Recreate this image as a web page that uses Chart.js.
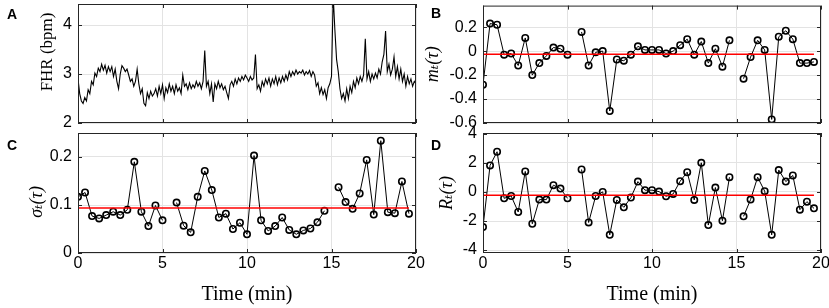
<!DOCTYPE html>
<html>
<head>
<meta charset="utf-8">
<script src="https://cdn.jsdelivr.net/npm/chart.js@4.4.1/dist/chart.umd.min.js"></script>
<style>
  html, body { margin: 0; padding: 0; background: #fff; overflow: hidden; }
  #wrap { position: relative; width: 829px; height: 308px; overflow: hidden; }
  canvas { position: absolute; }
  .tag { position: absolute; font: bold 14px "Liberation Sans", Arial, sans-serif; line-height: 14px; color: #000; }
</style>
</head>
<body>
<div id="wrap">
  <canvas id="panel-a" width="430" height="136" style="left:0;top:0"></canvas>
  <canvas id="panel-b" width="420" height="136" style="left:420px;top:0"></canvas>
  <canvas id="panel-c" width="430" height="188" style="left:0;top:120px"></canvas>
  <canvas id="panel-d" width="420" height="188" style="left:420px;top:120px"></canvas>
  <div class="tag" style="left:7px;top:7px">A</div>
  <div class="tag" style="left:431px;top:6px">B</div>
  <div class="tag" style="left:7px;top:138px">C</div>
  <div class="tag" style="left:431px;top:138px">D</div>
</div>
<script>
// x axis ticks (minutes)
const timeTicks = [0, 5, 10, 15, 20];

// FHR trace, read every 0.1 min
const fhrTime = [
  0, 0.1, 0.2, 0.3, 0.4, 0.5, 0.6, 0.7, 0.8, 0.9,
  1, 1.1, 1.2, 1.3, 1.4, 1.5, 1.6, 1.7, 1.8, 1.9,
  2, 2.1, 2.2, 2.3, 2.4, 2.5, 2.6, 2.7, 2.8, 2.9,
  3, 3.1, 3.2, 3.3, 3.4, 3.5, 3.6, 3.7, 3.8, 3.9,
  4, 4.1, 4.2, 4.3, 4.4, 4.5, 4.6, 4.7, 4.8, 4.9,
  5, 5.1, 5.2, 5.3, 5.4, 5.5, 5.6, 5.7, 5.8, 5.9,
  6, 6.1, 6.2, 6.3, 6.4, 6.5, 6.6, 6.7, 6.8, 6.9,
  7, 7.1, 7.2, 7.3, 7.4, 7.5, 7.6, 7.7, 7.8, 7.9,
  8, 8.1, 8.2, 8.3, 8.4, 8.5, 8.6, 8.7, 8.8, 8.9,
  9, 9.1, 9.2, 9.3, 9.4, 9.5, 9.6, 9.7, 9.8, 9.9,
  10, 10.1, 10.2, 10.3, 10.4, 10.5, 10.6, 10.7, 10.8, 10.9,
  11, 11.1, 11.2, 11.3, 11.4, 11.5, 11.6, 11.7, 11.8, 11.9,
  12, 12.1, 12.2, 12.3, 12.4, 12.5, 12.6, 12.7, 12.8, 12.9,
  13, 13.1, 13.2, 13.3, 13.4, 13.5, 13.6, 13.7, 13.8, 13.9,
  14, 14.1, 14.2, 14.3, 14.4, 14.5, 14.6, 14.7, 14.8, 14.9,
  15, 15.1, 15.2, 15.3, 15.4, 15.5, 15.6, 15.7, 15.8, 15.9,
  16, 16.1, 16.2, 16.3, 16.4, 16.5, 16.6, 16.7, 16.8, 16.9,
  17, 17.1, 17.2, 17.3, 17.4, 17.5, 17.6, 17.7, 17.8, 17.9,
  18, 18.1, 18.2, 18.3, 18.4, 18.5, 18.6, 18.7, 18.8, 18.9,
  19, 19.1, 19.2, 19.3, 19.4, 19.5, 19.6, 19.7, 19.8, 19.9,
  20
];
const fhrValue = [
  2.9, 2.6, 2.45, 2.4, 2.52, 2.45, 2.68, 2.6, 2.85, 2.78,
  3.02, 2.95, 3.12, 3.05, 3.2, 3.08, 3.18, 3.02, 3.15, 3.05,
  3.15, 2.95, 3.1, 2.85, 2.7, 3.0, 3.17, 3.12, 3.05, 3.1,
  2.98, 2.85, 2.9, 2.75, 2.85, 3.1, 2.8, 2.6, 2.7, 2.4,
  2.35, 2.62, 2.5, 2.65, 2.55, 2.6, 2.7, 2.55, 2.75, 2.6,
  2.78, 2.5, 2.72, 2.62, 2.8, 2.65, 2.75, 2.6, 2.78, 2.65,
  2.72, 2.6, 2.98, 2.75, 2.8, 2.68, 2.82, 2.7, 2.78, 2.72,
  2.85, 2.75, 2.82, 2.7, 2.85, 3.48, 2.75, 2.85, 2.6, 2.8,
  2.43, 2.8, 2.7, 2.85, 2.72, 2.8, 2.68, 2.75, 2.62, 2.5,
  2.78, 2.85, 2.75, 2.9, 2.8, 2.92, 2.85, 2.95, 2.88, 2.98,
  2.92, 2.85, 2.95, 2.88, 2.92, 3.4, 2.7, 2.78, 2.65, 2.85,
  2.75, 2.9, 2.8, 2.92, 2.75, 2.9, 2.8, 2.95, 2.78, 2.92,
  2.82, 2.95, 2.85, 2.98, 2.88, 3.05, 2.95, 3.05, 2.98, 3.08,
  3.0, 3.05, 3.02, 3.08, 2.98, 3.05, 3.0, 3.07, 2.95, 3.05,
  2.98, 2.75, 2.82, 2.6, 2.72, 2.58, 2.68, 2.5, 2.72, 2.8,
  2.95, 4.6, 3.9, 3.3, 3.05, 2.7, 2.5, 2.6, 2.45, 2.7,
  2.5, 2.75, 2.62, 2.85, 2.72, 2.92, 2.8, 2.95, 2.85, 2.98,
  3.72, 2.9, 3.05, 2.85, 3.0, 2.9, 3.02, 2.92, 3.1, 3.0,
  3.25, 3.4, 3.88, 3.05, 3.2, 2.98, 3.1, 3.35, 2.95, 3.15,
  2.9, 3.1, 2.85, 3.0, 2.75, 2.95, 2.8, 2.9, 2.75, 2.85,
  2.8
];

// window centres (min) for the windowed statistics
const winTime = [
  0, 0.417, 0.833, 1.25, 1.667, 2.083, 2.5, 2.917, 3.333, 3.75, 4.167, 4.583,
  5, 5.417, 5.833, 6.25, 6.667, 7.083, 7.5, 7.917, 8.333, 8.75, 9.167, 9.583,
  10, 10.417, 10.833, 11.25, 11.667, 12.083, 12.5, 12.917, 13.333, 13.75, 14.167, 14.583,
  15, 15.417, 15.833, 16.25, 16.667, 17.083, 17.5, 17.917, 18.333, 18.75, 19.167, 19.583
];
const meanValue = [
  -0.28, 0.23, 0.22, -0.03, -0.02, -0.12, 0.11, -0.2, -0.1, -0.04, 0.03, 0.02,
  -0.03, null, 0.16, -0.12, -0.01, 0.0, -0.5, -0.07, -0.08, -0.03, 0.04, 0.01,
  0.01, 0.01, -0.02, 0.0, 0.05, 0.1, -0.03, 0.08, -0.1, 0.02, -0.13, 0.09,
  null, -0.23, -0.05, 0.09, 0.01, -0.57, 0.12, 0.17, 0.1, -0.1, -0.1, -0.09
];
const stdValue = [
  0.117, 0.126, 0.077, 0.072, 0.079, 0.086, 0.079, 0.09, 0.19, 0.086, 0.056, 0.099,
  0.068, null, 0.105, 0.057, 0.043, 0.117, 0.171, 0.131, 0.074, 0.082, 0.05, 0.063,
  0.039, 0.203, 0.068, 0.046, 0.056, 0.074, 0.048, 0.039, 0.047, 0.051, 0.064, 0.088,
  null, 0.137, 0.106, 0.092, 0.124, 0.194, 0.08, 0.234, 0.085, 0.083, 0.149, 0.082
];
const ratioValue = [
  -2.42, 1.82, 2.76, -0.44, -0.28, -1.38, 1.41, -2.19, -0.53, -0.53, 0.46, 0.23,
  -0.44, null, 1.54, -2.1, -0.28, 0.0, -2.95, -0.55, -1.06, -0.39, 0.71, 0.12,
  0.12, 0.02, -0.3, -0.14, 0.74, 1.36, -0.55, 2.0, -2.28, 0.3, -1.98, 1.01,
  null, -1.68, -0.53, 1.01, 0.05, -2.95, 1.5, 0.71, 1.13, -1.22, -0.67, -1.13
];
// overall averages (red lines)
const meanLevel = [-0.027];
const stdLevel = [0.094];
const ratioLevel = [-0.23];

// y ticks of each panel
const fhrTicks = [2, 3, 4];
const meanTicks = [-0.6, -0.4, -0.2, 0, 0.2];
const stdTicks = [0, 0.1, 0.2];
const ratioTicks = [-4, -2, 0, 2, 4];

const axisColor = "#262626";
const gridColor = "#e3e3e3";
const tickFont = { family: "'Liberation Sans', Arial, sans-serif", size: 16 };

// box round the plot with small inner tick marks
const boxPlugin = {
  id: "box",
  afterDraw: (chart) => {
    const { ctx, chartArea: a, scales } = chart;
    ctx.save();
    ctx.strokeStyle = axisColor;
    ctx.lineWidth = 1;
    ctx.strokeRect(a.left + 0.5, a.top + 0.5, a.right - a.left - 1, a.bottom - a.top - 1);
    ctx.beginPath();
    scales.x.ticks.forEach((t) => {
      const px = Math.round(scales.x.getPixelForValue(t.value)) + 0.5;
      ctx.moveTo(px, a.bottom); ctx.lineTo(px, a.bottom - 4);
      ctx.moveTo(px, a.top); ctx.lineTo(px, a.top + 4);
    });
    scales.y.ticks.forEach((t) => {
      const py = Math.round(scales.y.getPixelForValue(t.value)) + 0.5;
      ctx.moveTo(a.left, py); ctx.lineTo(a.left + 4, py);
      ctx.moveTo(a.right, py); ctx.lineTo(a.right - 4, py);
    });
    ctx.stroke();
    ctx.restore();
  },
};

const toPoints = (xs, ys) => xs.map((x, i) => ({ x: x, y: ys[i] }));

const seriesSet = (values, level) => [
  {
    // red average line, drawn on top
    data: [{ x: winTime[0], y: level[0] }, { x: winTime[winTime.length - 1], y: level[0] }],
    borderColor: "#ff0000",
    borderWidth: 1.5,
    pointRadius: 0,
  },
  {
    data: toPoints(winTime, values),
    borderColor: "#000",
    borderWidth: 1,
    pointRadius: 3.2,
    pointBorderWidth: 1.6,
    pointBorderColor: "#000",
    pointBackgroundColor: "rgba(0,0,0,0)",
    spanGaps: false,
  },
];

const makePanel = (id, cfg) => {
  new Chart(document.getElementById(id), {
    type: "line",
    data: { datasets: cfg.datasets },
    options: {
      responsive: false,
      animation: false,
      devicePixelRatio: 1,
      layout: { padding: cfg.padding },
      plugins: { legend: { display: false }, tooltip: { enabled: false } },
      elements: { line: { tension: 0 } },
      scales: {
        x: {
          type: "linear",
          min: 0,
          max: 20,
          afterBuildTicks: (s) => { s.ticks = timeTicks.map((v) => ({ value: v })); },
          afterFit: (s) => {
            s.height = cfg.xHeight;
            s.paddingLeft = 0; s.paddingRight = 0;
          },
          grid: { color: gridColor, drawTicks: false },
          border: { display: false },
          ticks: {
            display: cfg.showX,
            padding: 1,
            maxRotation: 0,
            color: "#000",
            font: tickFont,
            callback: (v) => String(v),
          },
          title: {
            display: cfg.showX,
            text: "Time (min)",
            color: "#000",
            font: { family: "'Liberation Serif', 'Times New Roman', serif", size: 20 },
            padding: { top: 0, bottom: 1 },
          },
        },
        y: {
          min: cfg.yMin,
          max: cfg.yMax,
          afterBuildTicks: (s) => { s.ticks = cfg.yTicks.map((v) => ({ value: v })); },
          afterFit: (s) => {
            s.width = cfg.yWidth;
            s.paddingTop = 0; s.paddingBottom = 0;
          },
          grid: { color: gridColor, drawTicks: false },
          border: { display: false },
          ticks: { padding: 6, color: "#000", font: tickFont, callback: (v) => String(v) },
          title: {
            display: true,
            text: cfg.yTitle,
            align: cfg.titleAlign || "center",
            color: "#000",
            font: { family: "'Liberation Serif', 'DejaVu Serif', serif", size: cfg.titleSize || 18, style: cfg.italic ? "italic" : "normal" },
            padding: { top: cfg.titlePad, bottom: 0 },
          },
        },
      },
    },
    plugins: [boxPlugin],
  });
};

// A: FHR trace
makePanel("panel-a", {
  datasets: [{
    data: toPoints(fhrTime, fhrValue),
    borderColor: "#000",
    borderWidth: 1.1,
    pointRadius: 0,
  }],
  padding: { top: 4, right: 14, left: 0, bottom: 0 },
  xHeight: 13, yWidth: 78, showX: false,
  yMin: 2, yMax: 4.43, yTicks: fhrTicks,
  yTitle: "FHR (bpm)\u00a0\u00a0", italic: false, titlePad: 37,
  titleAlign: "end", titleSize: 17,
});

// B: mean
makePanel("panel-b", {
  datasets: seriesSet(meanValue, meanLevel),
  padding: { top: 4, right: 19, left: 0, bottom: 0 },
  xHeight: 13, yWidth: 63, showX: false,
  yMin: -0.6, yMax: 0.38, yTicks: meanTicks,
  yTitle: "mₜ(τ)", italic: true, titlePad: 2,
});

// C: standard deviation
makePanel("panel-c", {
  datasets: seriesSet(stdValue, stdLevel),
  padding: { top: 13, right: 14, left: 0, bottom: 0 },
  xHeight: 55, yWidth: 78, showX: true,
  yMin: 0, yMax: 0.25, yTicks: stdTicks,
  yTitle: "σₜ(τ)\u00a0\u00a0\u00a0\u00a0", italic: true, titlePad: 26,
});

// D: ratio
makePanel("panel-d", {
  datasets: seriesSet(ratioValue, ratioLevel),
  padding: { top: 13, right: 19, left: 0, bottom: 0 },
  xHeight: 55, yWidth: 63, showX: true,
  yMin: -4.2, yMax: 4.05, yTicks: ratioTicks,
  yTitle: "Rₜ(τ)", italic: true, titlePad: 16,
});
</script>
</body>
</html>
